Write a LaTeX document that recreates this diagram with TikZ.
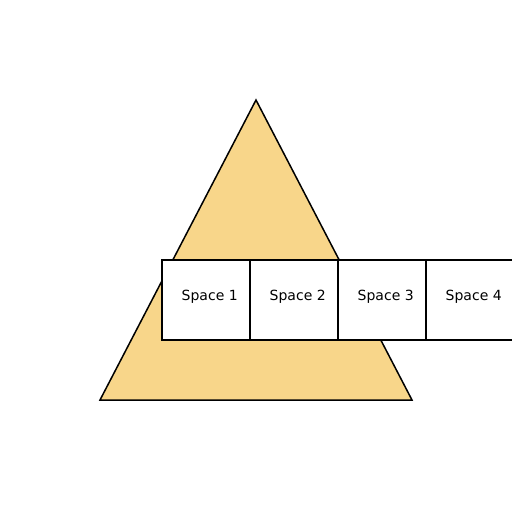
\documentclass[tikz,border=0pt]{standalone}
\usepackage{fontspec}
\setmainfont{DejaVu Sans}
\definecolor{tri}{HTML}{F8D68A}
\begin{document}
\begin{tikzpicture}[x=1pt,y=-1pt,
  spacebox/.style={draw=black,line width=1.5pt,fill=white,minimum width=88pt,minimum height=80pt,inner sep=0pt,outer sep=0pt,anchor=north west},
  lbl/.style={inner sep=0pt,anchor=base west,font=\fontsize{14}{16}\selectfont}]
\useasboundingbox (0,0) rectangle (512,512);
\clip (0,0) rectangle (512,512);
\coordinate (apex) at (256,100);
\coordinate (bl) at (100,400);
\coordinate (br) at (412,400);
\draw[line width=1.5pt,fill=tri,line join=miter] (apex) -- (br) -- (bl) -- cycle;
\node[spacebox] (s1) at (162,260) {};
\node[spacebox] (s2) at (250,260) {};
\node[spacebox] (s3) at (338,260) {};
\node[spacebox] (s4) at (426,260) {};
\node[lbl] (t1) at (181.5,300.5) {Space 1};
\node[lbl] (t2) at (269.5,300.5) {Space 2};
\node[lbl] (t3) at (357.5,300.5) {Space 3};
\node[lbl] (t4) at (445.5,300.5) {Space 4};
\end{tikzpicture}
\end{document}
